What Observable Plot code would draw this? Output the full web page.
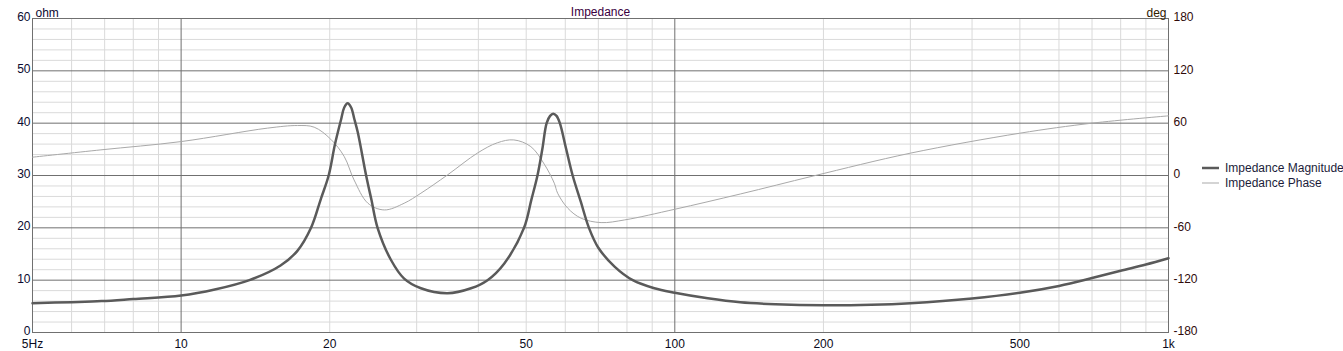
<!DOCTYPE html>
<html>
<head>
<meta charset="utf-8">
<script src="https://cdn.jsdelivr.net/npm/d3@7"></script>
<script src="https://cdn.jsdelivr.net/npm/@observablehq/plot@0.6"></script>
<style>
  html, body { margin: 0; padding: 0; background: #fff; }
  #wrap { position: relative; width: 1343px; height: 351px; font-family: "Liberation Sans", Arial, sans-serif; font-size: 12px; }
  #legend { position: absolute; left: 1202px; top: 160px; color: #1c1c3a; white-space: nowrap; }
  .row { display: flex; align-items: center; height: 15px; white-space: nowrap; }
  .sw { width: 17px; margin-right: 6px; flex: none; }
</style>
</head>
<body>
<div id="wrap"></div>
<script>
// Magnitude (ohm) vs frequency (Hz)
const magFreq = [5, 6, 6.9, 8, 10, 11.7, 13.75, 15.9, 17.2, 18.33, 19.2, 19.9, 20.5, 21.1, 21.4, 21.74, 22.1, 22.43, 22.8, 23.7, 24.3, 25.0, 26.6, 28.3, 30.6, 34.65, 38.65, 41.75, 45.15, 49.5, 51.2, 52.7, 53.9, 55.0, 55.9, 56.7, 57.6, 58.5, 60.2, 62.1, 64.5, 67.0, 70, 75.5, 82.2, 90.9, 100, 116.6, 135.7, 160, 200, 250, 300, 400, 500, 600, 700, 800, 900, 1000];
const magOhm  = [5.6, 5.8, 6.0, 6.4, 7.05, 8.2, 10, 12.8, 15.6, 20, 25.6, 30, 36, 40.8, 43.0, 43.8, 43.0, 40.8, 38.2, 30, 25.3, 20, 13.9, 10.3, 8.45, 7.5, 8.45, 10, 13.2, 20, 25.3, 30, 35, 40, 41.4, 41.8, 41.4, 40, 35.2, 30, 25, 20, 16.2, 12.6, 10, 8.45, 7.6, 6.54, 5.77, 5.4, 5.2, 5.3, 5.6, 6.5, 7.6, 8.9, 10.4, 11.8, 13.0, 14.2];

// Phase (deg) vs frequency (Hz)
const phFreq = [5, 6.88, 10, 14.96, 17.2, 18.6, 20.1, 21.4, 22.4, 23.9, 25.8, 28.3, 30.6, 34.65, 39.9, 43.7, 47.2, 51.1, 54.4, 57.0, 57.9, 60.7, 64.6, 70.9, 79.2, 100, 136, 191, 300, 500, 700, 1000];
const phDeg  = [21, 29.4, 38.9, 54.3, 57.3, 55.4, 41.5, 21.7, -5, -31.8, -39.5, -31.8, -20.3, 0.7, 26.0, 37.5, 40.8, 33.1, 13, -8.8, -20.3, -37.5, -49.0, -54.0, -50.9, -38.7, -21.1, -0.5, 25.6, 48.5, 60, 68.4];

// Ticks and grid
const xTickVals = [5, 10, 20, 50, 100, 200, 500, 1000];
const xTickText = ["5Hz", "10", "20", "50", "100", "200", "500", "1k"];
const xMajor = [10, 100];
const xMinor = [6, 7, 8, 9, 20, 30, 40, 50, 60, 70, 80, 90, 200, 300, 400, 500, 600, 700, 800, 900];
const ohmTicks = [0, 10, 20, 30, 40, 50, 60];
const ohmMinor = [2, 4, 6, 8, 12, 14, 16, 18, 22, 24, 26, 28, 32, 34, 36, 38, 42, 44, 46, 48, 52, 54, 56, 58];
const degTicks = [-180, -120, -60, 0, 60, 120, 180];

const mag = magFreq.map((f, i) => ({f, v: magOhm[i]}));
const ph = phFreq.map((f, i) => ({f, v: (phDeg[i] + 180) / 6}));
const degToY = d => (d + 180) / 6;
const xLabels = xTickVals.map((f, i) => ({f, t: xTickText[i]}));

const chart = Plot.plot({
  width: 1343,
  height: 351,
  marginLeft: 32,
  marginRight: 175,
  marginTop: 18,
  marginBottom: 19,
  style: {fontFamily: "Liberation Sans, Arial, sans-serif", fontSize: "12px", color: "#000", background: "#fff"},
  x: {type: "log", domain: [5, 1000], axis: null},
  y: {domain: [0, 60], axis: null},
  marks: [
    Plot.ruleX(xMinor, {stroke: "#dadada", strokeWidth: 1}),
    Plot.ruleY(ohmMinor, {stroke: "#dadada", strokeWidth: 1}),
    Plot.ruleX(xMajor, {stroke: "#707070", strokeWidth: 1}),
    Plot.ruleY(ohmTicks, {stroke: "#707070", strokeWidth: 1}),
    Plot.frame({stroke: "#707070"}),
    Plot.line(ph, {x: "f", y: "v", stroke: "#a9a9a9", strokeWidth: 1, curve: "catmull-rom"}),
    Plot.line(mag, {x: "f", y: "v", stroke: "#5a5a5a", strokeWidth: 2.5, curve: "catmull-rom"}),
    Plot.text(xLabels, {x: "f", text: "t", frameAnchor: "bottom", dy: 12, lineAnchor: "middle", fill: "#0a0a20"}),
    Plot.axisY({ticks: ohmTicks, anchor: "left", tickSize: 0, tickPadding: 2, dy: -1.5, label: null, fill: "#0a0a30"}),
    Plot.axisY({ticks: degTicks.map(degToY), anchor: "right", tickFormat: v => String(Math.round(v * 6 - 180)), tickSize: 0, tickPadding: 5, dy: -1, label: null, fill: "#300a0a"}),
    Plot.text(["ohm"], {frameAnchor: "top-left", dx: 3, dy: -10, textAnchor: "start", fill: "#0a0a30"}),
    Plot.text(["deg"], {frameAnchor: "top-right", dx: -2, dy: -10, textAnchor: "end", fill: "#302000"}),
    Plot.text(["Impedance"], {frameAnchor: "top", dy: -11, fill: "#3a0040"})
  ]
});

const wrap = document.getElementById("wrap");
wrap.appendChild(chart);

const legendItems = [
  {name: "Impedance Magnitude", color: "#5a5a5a", w: 2.5},
  {name: "Impedance Phase", color: "#a9a9a9", w: 1}
];
const legend = document.createElement("div");
legend.id = "legend";
for (const it of legendItems) {
  const row = document.createElement("div");
  row.className = "row";
  row.innerHTML = `<svg class="sw" width="17" height="6"><line x1="0" x2="17" y1="3" y2="3" stroke="${it.color}" stroke-width="${it.w}"/></svg><span>${it.name}</span>`;
  legend.appendChild(row);
}
wrap.appendChild(legend);
</script>
</body>
</html>
